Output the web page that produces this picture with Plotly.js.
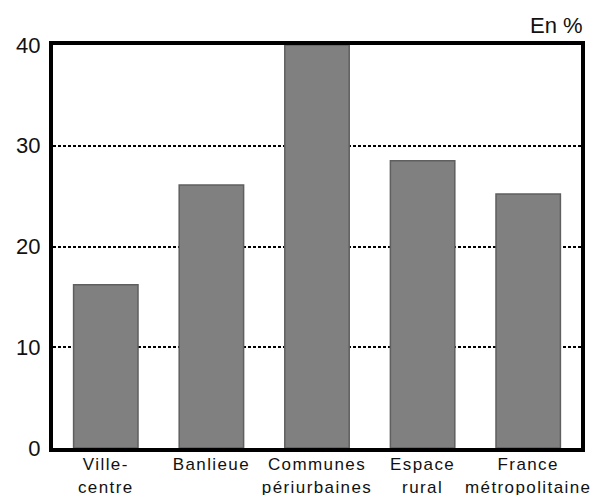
<!DOCTYPE html>
<html>
<head>
<meta charset="utf-8">
<script src="https://cdn.plot.ly/plotly-3.0.1.min.js"></script>
<style>
html,body{margin:0;padding:0;background:#fff;}
#chart{width:596px;height:495px;}
#chart .xtick text{letter-spacing:1.4px;}
</style>
</head>
<body>
<div id="chart"></div>
<script>
const categories = ["Ville-<br>centre", "Banlieue", "Communes<br>périurbaines", "Espace<br>rural", "France<br>métropolitaine"];
const values = [16.2, 26.1, 40, 28.5, 25.2];
const yTicks = [0, 10, 20, 30, 40];

const trace = {
  type: "bar",
  x: categories,
  y: values,
  marker: {color: "#808080", line: {color: "#5f5f5f", width: 1.5}},
  hoverinfo: "x+y"
};

const layout = {
  width: 596,
  height: 495,
  margin: {l: 53, r: 15, t: 45, b: 47, pad: 0},
  paper_bgcolor: "#ffffff",
  plot_bgcolor: "#ffffff",
  bargap: 0.39,
  showlegend: false,
  font: {family: "Liberation Sans, Arial, sans-serif", color: "#000"},
  xaxis: {
    type: "category",
    showline: true, mirror: true, linecolor: "#000", linewidth: 4,
    showgrid: false, ticks: "", zeroline: false,
    tickfont: {size: 17, color: "#111"},
    ticklabelstandoff: -2,
    automargin: false
  },
  yaxis: {
    range: [0, 40],
    tickvals: yTicks,
    showline: true, mirror: true, linecolor: "#000", linewidth: 4,
    showgrid: true, gridcolor: "#000", gridwidth: 2, griddash: "3px,2px",
    zeroline: false, ticks: "",
    tickfont: {size: 22, color: "#111"},
    ticklabelstandoff: 4,
    automargin: false
  },
  annotations: [{
    text: "En %", xref: "paper", yref: "paper", x: 1.0, y: 1.0,
    xanchor: "right", yanchor: "bottom", yshift: 5, xshift: 4, showarrow: false,
    font: {size: 22, color: "#111"}
  }]
};

Plotly.newPlot("chart", [trace], layout, {staticPlot: true, displayModeBar: false});
</script>
</body>
</html>
